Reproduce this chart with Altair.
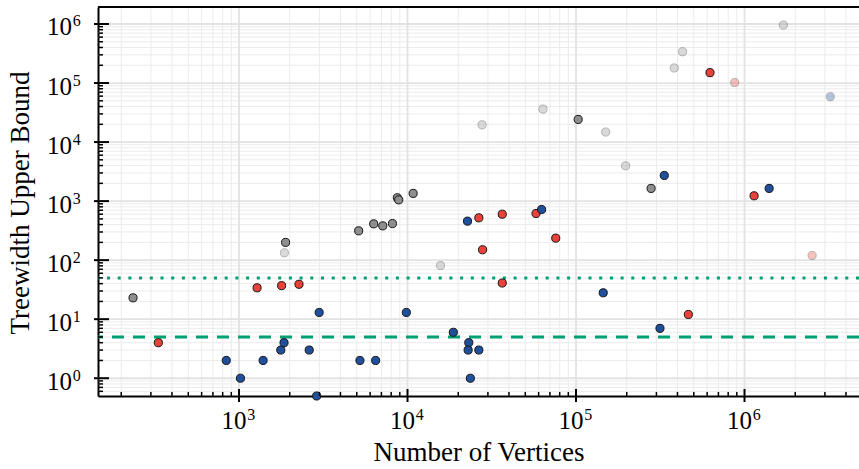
import altair as alt
import pandas as pd

# ---------------- data ----------------
vertices = [235, 332, 840, 1020, 1390, 1770, 1850, 1280, 1790, 2270,
            1890, 1860, 2610, 2990, 2890, 5220, 6470, 9840, 18700, 23100,
            22900, 26500, 23600, 36500, 27900, 75800, 15700, 5130, 6300, 7130,
            8140, 8700, 8870, 10800, 22700, 26500, 36500, 57900, 62500, 27700,
            63700, 103000, 150000, 197000, 334000, 279000, 429000, 383000, 624000, 875000,
            1700000, 3230000, 1140000, 1400000, 2520000, 145000, 315000, 464000]
treewidth = [23, 4, 2, 1, 2, 3, 4, 34, 37, 39,
             200, 133, 3, 13, 0.5, 2, 2, 13, 6, 4,
             3, 3, 1, 41, 150, 236, 81, 314, 412, 381,
             417, 1140, 1050, 1350, 458, 521, 600, 617, 721, 19600,
             36200, 24200, 14800, 3960, 2720, 1640, 339000, 180000, 150000, 102000,
             960000, 58600, 1230, 1640, 120, 28, 7, 12]
group = ["gray", "red", "blue", "blue", "blue", "blue", "blue", "red", "red", "red",
         "gray", "gray", "blue", "blue", "blue", "blue", "blue", "blue", "blue", "blue",
         "blue", "blue", "blue", "red", "red", "red", "gray", "gray", "gray", "gray",
         "gray", "gray", "gray", "gray", "blue", "red", "red", "red", "blue", "gray",
         "gray", "gray", "gray", "gray", "blue", "gray", "gray", "gray", "red", "red",
         "gray", "blue", "red", "blue", "red", "blue", "blue", "red"]
faded = [0, 0, 0, 0, 0, 0, 0, 0, 0, 0,
         0, 1, 0, 0, 0, 0, 0, 0, 0, 0,
         0, 0, 0, 0, 0, 0, 1, 0, 0, 0,
         0, 0, 0, 0, 0, 0, 0, 0, 0, 1,
         1, 0, 1, 1, 0, 0, 1, 1, 0, 1,
         1, 1, 0, 0, 1, 0, 0, 0]

threshold_dotted = [50]
threshold_dashed = [5]

x_decades = [1e3, 1e4, 1e5, 1e6]
x_exponents = ["3", "4", "5", "6"]
y_decades = [1, 10, 100, 1e3, 1e4, 1e5, 1e6]
y_exponents = ["0", "1", "2", "3", "4", "5", "6"]

x_domain = [145.6, 4.78e6]
y_domain = [0.5, 1.94e6]

x_minor = [m * 10 ** k for k in range(2, 7) for m in range(2, 10)
           if x_domain[0] <= m * 10 ** k <= x_domain[1]]
y_minor = [m * 10 ** k for k in range(-1, 7) for m in range(2, 10)
           if y_domain[0] < m * 10 ** k <= y_domain[1] and m * 10 ** k != 1]

# ---------------- layout ----------------
W, H = 761, 389
FONT = "Liberation Serif"
GREEN = "#009e73"

pts = pd.DataFrame({"vx": vertices, "vy": treewidth, "grp": group,
                    "alpha": [0.33 if f else 1.0 for f in faded]})
xmaj = pd.DataFrame({"vx": x_decades, "exp": x_exponents, "base": ["10"] * len(x_decades)})
ymaj = pd.DataFrame({"vy": y_decades, "exp": y_exponents, "base": ["10"] * len(y_decades)})
xmin = pd.DataFrame({"vx": x_minor})
ymin = pd.DataFrame({"vy": y_minor})

xs = alt.Scale(type="log", domain=x_domain, nice=False, zero=False)
ys = alt.Scale(type="log", domain=y_domain, nice=False, zero=False)

ax_x = alt.Axis(title="Number of Vertices", labels=False, ticks=False, grid=False,
                domain=True, domainColor="black", domainWidth=2,
                titleFont=FONT, titleFontSize=27, titleFontWeight="normal",
                titleColor="black", titleY=64, titleBaseline="alphabetic")
ax_y = alt.Axis(title="Treewidth Upper Bound", labels=False, ticks=False, grid=False,
                domain=True, domainColor="black", domainWidth=2,
                titleFont=FONT, titleFontSize=27, titleFontWeight="normal",
                titleColor="black", titleX=-70, titleY=H / 2 + 1, titleAngle=270,
                titleBaseline="alphabetic", titleAlign="center")

X = lambda: alt.X("vx:Q", scale=xs, axis=ax_x)
Y = lambda: alt.Y("vy:Q", scale=ys, axis=ax_y)

# grid
grid_xmin = alt.Chart(xmin).mark_rule(color="#ebebeb", strokeWidth=1).encode(x=X())
grid_ymin = alt.Chart(ymin).mark_rule(color="#ebebeb", strokeWidth=1).encode(y=Y())
grid_xmaj = alt.Chart(xmaj).mark_rule(color="#e2e2e2", strokeWidth=1.8).encode(x=X())
grid_ymaj = alt.Chart(ymaj).mark_rule(color="#e2e2e2", strokeWidth=1.8).encode(y=Y())

# threshold lines
dotted = alt.Chart(pd.DataFrame({"vy": threshold_dotted})).mark_rule(
    color=GREEN, strokeWidth=3, strokeDash=[3, 7.7]).encode(y=Y())
dashed = alt.Chart(pd.DataFrame({"vy": threshold_dashed})).mark_rule(
    color=GREEN, strokeWidth=3, strokeDash=[12, 9]).encode(y=Y())

# points
points = alt.Chart(pts).mark_circle(size=66, stroke="#151515", strokeWidth=1).encode(
    x=X(), y=Y(),
    color=alt.Color("grp:N", scale=alt.Scale(domain=["blue", "red", "gray"],
                                             range=["#20509b", "#e8433a", "#8e8e8e"]),
                    legend=None),
    opacity=alt.Opacity("alpha:Q", scale=None),
)

# ticks (inward + outward) drawn as rules
tx_maj = alt.Chart(xmaj).mark_rule(color="black", strokeWidth=2).encode(
    x=X(), y=alt.value(H - 7), y2=alt.value(H + 6))
tx_min = alt.Chart(xmin).mark_rule(color="black", strokeWidth=1.5).encode(
    x=X(), y=alt.value(H - 4), y2=alt.value(H))
ty_maj = alt.Chart(ymaj).mark_rule(color="black", strokeWidth=2).encode(
    y=Y(), x=alt.value(-4), x2=alt.value(11))
ty_min = alt.Chart(ymin).mark_rule(color="black", strokeWidth=1.5).encode(
    y=Y(), x=alt.value(0), x2=alt.value(5))

top_border = alt.Chart(pd.DataFrame({"vy": [y_domain[1]]})).mark_rule(
    color="black", strokeWidth=2).encode(y=Y())

# tick labels: "10" plus superscript exponent
lx_base = alt.Chart(xmaj).mark_text(font=FONT, fontSize=25, align="right",
                                    baseline="alphabetic", dx=7.5, color="black").encode(
    x=X(), y=alt.value(H + 33), text="base:N")
lx_exp = alt.Chart(xmaj).mark_text(font=FONT, fontSize=16, align="left",
                                   baseline="alphabetic", dx=8.2, color="black").encode(
    x=X(), y=alt.value(H + 23.5), text="exp:N")
ly_base = alt.Chart(ymaj).mark_text(font=FONT, fontSize=25, align="right",
                                    baseline="alphabetic", dy=11.5, color="black").encode(
    y=Y(), x=alt.value(-26), text="base:N")
ly_exp = alt.Chart(ymaj).mark_text(font=FONT, fontSize=16, align="left",
                                   baseline="alphabetic", dy=2.5, color="black").encode(
    y=Y(), x=alt.value(-25.3), text="exp:N")

chart = alt.layer(
    grid_xmin, grid_ymin, grid_xmaj, grid_ymaj,
    dotted, dashed, points,
    tx_maj, tx_min, ty_maj, ty_min, top_border,
    lx_base, lx_exp, ly_base, ly_exp,
).properties(
    width=W, height=H,
    padding={"left": 98, "top": 7, "right": 0, "bottom": 73},
    autosize=alt.AutoSizeParams(type="none"),
    background="white",
).configure_view(stroke=None)

chart.save("out.html", embed_options={"renderer": "svg", "actions": False})
